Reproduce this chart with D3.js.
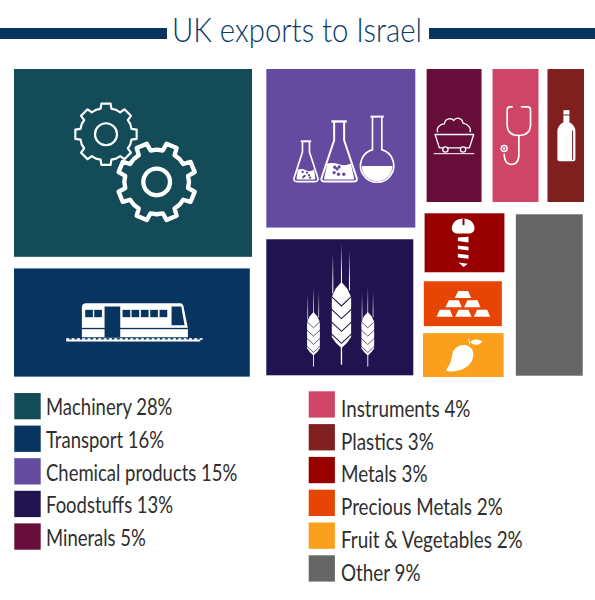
<!DOCTYPE html>
<html><head><meta charset="utf-8">
<script src="https://cdn.jsdelivr.net/npm/d3@7"></script>
<style>html,body{margin:0;background:#fff}svg{display:block}</style>
</head><body><svg id="c" width="595" height="600"></svg>
<script>
const titleText = "UK exports to Israel";
const categories = ["Machinery","Transport","Chemical products","Foodstuffs","Minerals","Instruments","Plastics","Metals","Precious Metals","Fruit & Vegetables","Other"];
const shares = [28,16,15,13,5,4,3,3,2,2,9];
const colors = ["#134b58","#07355f","#654ba0","#20134f","#660d3a","#cf4568","#7f201f","#980000","#e64505","#fba01d","#666666"];
const icons = ["gears","train","flasks","wheat","cart","stethoscope","bottle","screw","gold","mango",null];
const leftLegend = [0,1,2,3,4];
const rightLegend = [5,6,7,8,9,10];

// Treemap structure (how the tiles nest) and hand-drawn layout character of the original
const leaf = i => ({i, value: shares[i]});
const tree = {dir:"x", gap:[14.3,8.5], weights:[238,149,160.2], children:[
  {dir:"y", gap:11.6, children:[leaf(0),leaf(1)]},
  {dir:"y", gap:12, children:[leaf(2),leaf(3)]},
  {dir:"y", gap:12, weights:[133,163], children:[
    {dir:"x", gap:[11,9], exp:0.8, indent:2.8, children:[leaf(4),leaf(5),leaf(6)]},
    {dir:"x", gap:12.2, weights:[80,68.3], children:[
      {dir:"y", gap:[9,8], exp:0.7, children:[leaf(7),leaf(8),leaf(9)]},
      leaf(10)
    ]}
  ]}
]};
const edgeTrim = {1:{r:-2.2,t:-.8,b:-.4}, 0:{b:-.8}, 3:{r:-2,b:-1.7,t:-.3}, 7:{l:.8,r:.8,t:-.7}, 8:{r:-1.8,b:1}, 9:{l:-.8}, 10:{r:-1.3,t:.3,b:-1.3}};

function tile(node,x0,y0,x1,y1){
  const d=node.data, kids=node.children, n=kids.length;
  const w=d.weights||kids.map(c=>Math.pow(c.value,d.exp||1));
  const gaps=kids.map((_,k)=>k===n-1?0:(Array.isArray(d.gap)?d.gap[k]:d.gap));
  if(d.dir==="x") x0+=d.indent||0;
  const len=(d.dir==="x"?x1-x0:y1-y0)-d3.sum(gaps), tot=d3.sum(w);
  let p=d.dir==="x"?x0:y0;
  kids.forEach((c,k)=>{
    const s=len*w[k]/tot;
    if(d.dir==="x"){c.x0=p;c.x1=p+s;c.y0=y0;c.y1=y1;}
    else{c.y0=p;c.y1=p+s;c.x0=x0;c.x1=x1;}
    p+=s+gaps[k];
  });
}
const root=d3.treemap().tile(tile).size([570,308])(d3.hierarchy(tree).sum(d=>d.value||0));

const svg=d3.select("#c");
const defs=svg.append("defs");
const fade=defs.append("linearGradient").attr("id","fade").attr("x1",0).attr("y1",0).attr("x2",0).attr("y2",1);
fade.append("stop").attr("offset",0).attr("stop-color","#fff").attr("stop-opacity",0);
fade.append("stop").attr("offset",.75).attr("stop-color","#fff").attr("stop-opacity",1);

// Title
const titleColor="#0a3a66";
svg.append("rect").attr("x",0).attr("y",28).attr("width",167).attr("height",11).attr("fill","#07355f");
svg.append("rect").attr("x",429).attr("y",28).attr("width",166).attr("height",11).attr("fill","#07355f");
const FONT="Lato, 'Noto Sans', sans-serif";
const tt=svg.append("text").attr("font-family",FONT).attr("font-weight",300).attr("font-size",32.5).attr("fill",titleColor).text(titleText);
tt.attr("transform",`translate(172,42) scale(${250/tt.node().getComputedTextLength()},1)`);

// Tiles
const map=svg.append("g").attr("transform","translate(14,69)");
const leaves=root.leaves();
const g=map.selectAll("g").data(leaves).join("g").each(function(d){
  const t=edgeTrim[d.data.i]||{};
  d.l=d.x0+(t.l||0); d.r=d.x1+(t.r||0); d.t=d.y0+(t.t||0); d.b=d.y1+(t.b||0);
});
g.append("rect").attr("x",d=>d.l).attr("y",d=>d.t).attr("width",d=>d.r-d.l).attr("height",d=>d.b-d.t).attr("fill",d=>colors[d.data.i]);

// Icons: drawn in a 3x local grid, placed at the tile's centre
const W="#fff";
const iconAnchor={gears:[399,308],train:[395,188],flasks:[242,264],wheat:[239,226],cart:[101,225],stethoscope:[285,228],bottle:[437,225],screw:[148,113],gold:[142,296],mango:[144,451]};
const poly=(s,pts)=>s.append("polygon").attr("points",pts.map(p=>p.join(",")).join(" ")).attr("fill",W);
const box=(s,x,y,w,h,f)=>s.append("rect").attr("x",x).attr("y",y).attr("width",w).attr("height",h).attr("fill",f||W);
const line=(s,dd,sw)=>s.append("path").attr("d",dd).attr("fill","none").attr("stroke",W).attr("stroke-width",sw).attr("stroke-linejoin","round").attr("stroke-linecap","round");

function gearPath(n,root,tip,a0,wb,wt){
  const pts=[];
  for(let k=0;k<n;k++){
    const a=a0+k*2*Math.PI/n;
    pts.push([a-wb,root],[a-wt,tip],[a+wt,tip],[a+wb,root],[a+Math.PI/n,root+1]);
  }
  return d3.lineRadial().curve(d3.curveLinearClosed)(pts);
}
const draw={
  gears(s,bg){
    s.append("path").attr("transform","translate(318,222)").attr("d",gearPath(8,78,93,0,.21,.15)).attr("fill",bg).attr("stroke",W).attr("stroke-width",6.5).attr("stroke-linejoin","round");
    s.append("circle").attr("cx",318).attr("cy",222).attr("r",33).attr("fill","none").attr("stroke",W).attr("stroke-width",6.5);
    s.append("path").attr("transform","translate(470,365)").attr("d",gearPath(8,96,118,Math.PI/8,.2,.14)).attr("fill",bg).attr("stroke",W).attr("stroke-width",13).attr("stroke-linejoin","round");
    s.append("circle").attr("cx",470).attr("cy",365).attr("r",40).attr("fill","none").attr("stroke",W).attr("stroke-width",13);
  },
  train(s,bg){
    s.append("path").attr("d","M245 232V142Q245 130 258 130H540Q548 130 550 140L563 205V232Z").attr("fill",W);
    box(s,245,204,318,4,bg);
    [255,282,367,394,422,450,478].forEach(x=>box(s,x,150,23,22,bg));
    box(s,313,140,47,92,bg);
    s.append("path").attr("d","M514 140H543L553 196H514Z").attr("fill",bg);
    box(s,198,239,402,6);
    d3.range(198,600,16).forEach(x=>box(s,x,235,9,5));
  },
  flasks(s,bg){
    const fl=(cx,lipY,lipW,neckW,neckB,baseW,baseY,sw,liqY,dots,r)=>{
      box(s,cx-lipW/2,lipY,lipW,sw+1);
      s.append("path").attr("d",`M${cx-neckW/2} ${lipY+sw}V${neckB}L${cx-baseW/2} ${baseY-10}Q${cx-baseW/2-2} ${baseY} ${cx-baseW/2+10} ${baseY}H${cx+baseW/2-10}Q${cx+baseW/2+2} ${baseY} ${cx+baseW/2} ${baseY-10}L${cx+neckW/2} ${neckB}V${lipY+sw}`)
        .attr("fill","none").attr("stroke",W).attr("stroke-width",sw).attr("stroke-linejoin","round");
      const hb=(baseW/2-6), t=(liqY-neckB)/(baseY-10-neckB), hw=neckW/2+(baseW/2-neckW/2)*t-3;
      s.append("path").attr("d",`M${cx-hw} ${liqY}Q${cx-hw/2} ${liqY-4} ${cx} ${liqY+2}T${cx+hw} ${liqY}L${cx+hb-2} ${baseY-10}Q${cx+hb} ${baseY-6} ${cx+hb-8} ${baseY-6}H${cx-hb+8}Q${cx-hb} ${baseY-6} ${cx-hb+2} ${baseY-10}Z`).attr("fill",W);
      dots.forEach(q=>s.append("circle").attr("cx",cx+q[0]).attr("cy",q[1]).attr("r",r).attr("fill",bg));
    };
    fl(137.5,240,31,21,275,72,364,5,328,[[-10,335],[3,337],[-4,347],[9,345],[12,352],[-8,351]],3.5);
    fl(237,180,46,30,240,106,364,6,310,[[-13,321],[0,320],[-15,337],[-2,342],[14,342],[-6,326]],5);
    box(s,331,166,40,6);
    s.append("path").attr("d","M337 170V268A50 50 0 1 0 365 268V170").attr("fill","none").attr("stroke",W).attr("stroke-width",5);
    s.append("path").attr("d","M305 317H397A46 46 0 0 1 305 317Z").attr("fill",W);
  },
  wheat(s,bg){
    const ear=(cx,y,k)=>{
      const e=s.append("g").attr("transform",`translate(${cx},${y}) scale(${k})`);
      [[-26,-85],[0,-115],[24,-95]].forEach(a=>e.append("rect").attr("x",a[0]-1.5).attr("y",a[1]).attr("width",3).attr("height",120).attr("fill","url(#fade)"));
      e.append("path").attr("d","M0 0L17 20L29 45V165Q18 185 0 198Q-18 185 -29 165V45L-17 20Z").attr("fill",W);
      e.append("rect").attr("x",-2).attr("y",190).attr("width",4).attr("height",58).attr("fill",W);
      [72,110,148,184].forEach(q=>{
        e.append("path").attr("d",`M-32 ${q-30}L0 ${q}L32 ${q-30}`).attr("fill","none").attr("stroke",bg).attr("stroke-width",3.2);
      });
    };
    ear(244,150,1);
    ear(160,240,.66);
    ear(323,240,.66);
  },
  cart(s,bg){
    s.append("path").attr("d","M52 215C46 200 62 190 72 190C74 172 95 172 100 180C108 168 125 172 128 188C142 190 155 205 148 215").attr("fill","none").attr("stroke",W).attr("stroke-width",4);
    s.append("path").attr("d","M44 222H160L147 262H57Z").attr("fill","none").attr("stroke",W).attr("stroke-width",4).attr("stroke-linejoin","round");
    box(s,40,278,122,3);
    [75,128].forEach(x=>s.append("circle").attr("cx",x).attr("cy",267).attr("r",8).attr("fill",bg).attr("stroke",W).attr("stroke-width",4));
  },
  stethoscope(s,bg){
    line(s,"M275 142H268Q260 142 260 152V198Q262 228 295 228Q328 228 330 198V152Q330 142 322 142H303",5);
    line(s,"M295 228V290Q293 314 273 315Q252 314 251 285",5);
    s.append("circle").attr("cx",251).attr("cy",267).attr("r",9).attr("fill",bg).attr("stroke",W).attr("stroke-width",4);
    s.append("circle").attr("cx",251).attr("cy",267).attr("r",4).attr("fill",W);
  },
  bottle(s,bg){
    box(s,430,149,18,13);
    s.append("path").attr("d","M430 165H448V185Q466 195 466 212V296Q466 302 460 302H418Q412 302 412 296V212Q412 195 430 185Z").attr("fill",W);
    box(s,456,210,3,88,bg);
  },
  screw(s,bg){
    s.append("path").attr("d","M110 70C110 52 125 40 144 40C163 40 178 52 178 70C178 80 170 85 160 85H128C118 85 110 80 110 70Z").attr("fill",W);
    box(s,142,40,6,20,bg);
    poly(s,[[128,97],[160,95],[160,112],[128,108]]);
    poly(s,[[128,121],[160,125],[160,136],[128,132]]);
    poly(s,[[128,146],[160,150],[160,161],[128,157]]);
    poly(s,[[130,172],[158,176],[145,186]]);
  },
  gold(s){
    [[128,258],[100,286],[156,286],[73,314],[129,314],[185,314]].forEach(q=>poly(s,[q,[q[0]+30,q[1]],[q[0]+39,q[1]+21],[q[0]-10,q[1]+21]]));
  },
  mango(s){
    s.append("path").attr("d","M93 494C108 478 108 462 112 445C118 425 140 418 155 422C172 428 178 445 172 462C165 485 140 498 112 500C100 501 92 499 93 494Z").attr("fill",W);
    s.append("path").attr("d","M163 420C163 412 160 408 160 401").attr("fill","none").attr("stroke",W).attr("stroke-width",2.5);
    s.append("path").attr("d","M165 412C172 402 188 402 201 410C192 422 175 424 165 412Z").attr("fill",W);
  }
};
g.filter(d=>icons[d.data.i]).each(function(d){
  const name=icons[d.data.i], a=iconAnchor[name];
  const s=d3.select(this).append("g").attr("transform",`translate(${(d.l+d.r)/2},${(d.t+d.b)/2}) scale(${1/3}) translate(${-a[0]},${-a[1]})`);
  draw[name](s,colors[d.data.i]);
});

// Legend
const fmt=i=>`${categories[i]} ${shares[i]}%`;
function legend(idx,swX,top,step,textX,base,sw,sx){
  const y=d3.scaleLinear().domain([0,1]).range([top,top+step]);
  const row=svg.append("g").selectAll("g").data(idx).join("g");
  row.append("rect").attr("x",swX).attr("y",(d,k)=>y(k)).attr("width",sw).attr("height",26.3).attr("fill",d=>colors[d]);
  row.append("text").attr("transform",(d,k)=>`translate(${textX},${y(k)+base}) scale(${sx},1)`)
    .attr("font-family",FONT).attr("font-size",24).attr("fill","#2e2e2e").text(fmt);
}
legend(leftLegend,14.3,393,32.6,46,22.3,26.4,.77);
legend(rightLegend,308.7,391.3,32.8,341,25.5,26.2,.785);
</script></body></html>
